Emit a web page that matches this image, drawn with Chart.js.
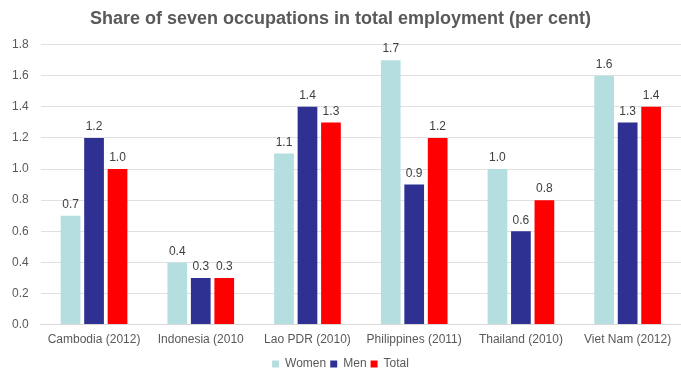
<!DOCTYPE html>
<html>
<head>
<meta charset="utf-8">
<script src="https://cdn.jsdelivr.net/npm/chart.js@4/dist/chart.umd.min.js"></script>
<style>
  html, body { margin: 0; padding: 0; background: #fff; }
  #wrap { width: 681px; height: 371px; position: relative; }
</style>
</head>
<body>
<div id="wrap"><canvas id="chart"></canvas></div>
<script>
// Chart data
const categories = ['Cambodia (2012)', 'Indonesia (2010', 'Lao PDR (2010)', 'Philippines (2011)', 'Thailand (2010)', 'Viet Nam (2012)'];
const women = [0.7, 0.4, 1.1, 1.7, 1.0, 1.6];
const men = [1.2, 0.3, 1.4, 0.9, 0.6, 1.3];
const total = [1.0, 0.3, 1.3, 1.2, 0.8, 1.4];
const yTicks = [0, 0.2, 0.4, 0.6, 0.8, 1.0, 1.2, 1.4, 1.6, 1.8];

const FONT = '"Liberation Sans Narrow", "Liberation Sans", Arial, sans-serif';

// Draw value labels above each bar
const valueLabels = {
    id: 'valueLabels',
    afterDatasetsDraw(chart) {
        const ctx = chart.ctx;
        ctx.save();
        ctx.font = '12px ' + FONT;
        ctx.fillStyle = '#404040';
        ctx.textAlign = 'center';
        ctx.textBaseline = 'bottom';
        chart.data.datasets.forEach((ds, i) => {
            chart.getDatasetMeta(i).data.forEach((bar, j) => {
                ctx.fillText(ds.data[j].toFixed(1), bar.x, bar.y - 5);
            });
        });
        ctx.restore();
    }
};

// Push the legend a little lower, closer to the bottom edge
const legendNudge = {
    id: 'legendNudge',
    afterLayout(chart) {
        if (chart.legend) {
            chart.legend.top += 7;
            chart.legend.bottom += 7;
        }
    }
};

new Chart(document.getElementById('chart'), {
    type: 'bar',
    data: {
        labels: categories,
        datasets: [
            { label: 'Women', data: women, backgroundColor: '#b4dee0' },
            { label: 'Men', data: men, backgroundColor: '#2e3192' },
            { label: 'Total', data: total, backgroundColor: '#ff0000' }
        ]
    },
    options: {
        responsive: true,
        maintainAspectRatio: false,
        animation: false,
        categoryPercentage: 0.66,
        barPercentage: 0.84,
        layout: { padding: { left: 0, right: 0, top: 0, bottom: -2 } },
        plugins: {
            title: {
                display: true,
                text: 'Share of seven occupations in total employment (per cent)',
                color: '#595959',
                font: { family: FONT, size: 18, weight: 'bold' },
                padding: { top: 8, bottom: 15 }
            },
            legend: {
                position: 'bottom',
                labels: {
                    color: '#595959',
                    font: { family: FONT, size: 12 },
                    boxWidth: 7,
                    boxHeight: 7,
                    padding: 4
                }
            },
            tooltip: { enabled: false }
        },
        scales: {
            x: {
                grid: { display: false },
                border: { color: '#d9d9d9' },
                ticks: { color: '#595959', font: { family: FONT, size: 12 }, maxRotation: 0, padding: 0 }
            },
            y: {
                min: 0,
                max: 1.8,
                afterBuildTicks: axis => { axis.ticks = yTicks.map(v => ({ value: v })); },
                grid: { color: '#e0e0e0', drawTicks: false },
                border: { display: false },
                ticks: {
                    color: '#595959',
                    font: { family: FONT, size: 12 },
                    padding: 12,
                    callback: v => v.toFixed(1)
                }
            }
        }
    },
    plugins: [valueLabels, legendNudge]
});
</script>
</body>
</html>
